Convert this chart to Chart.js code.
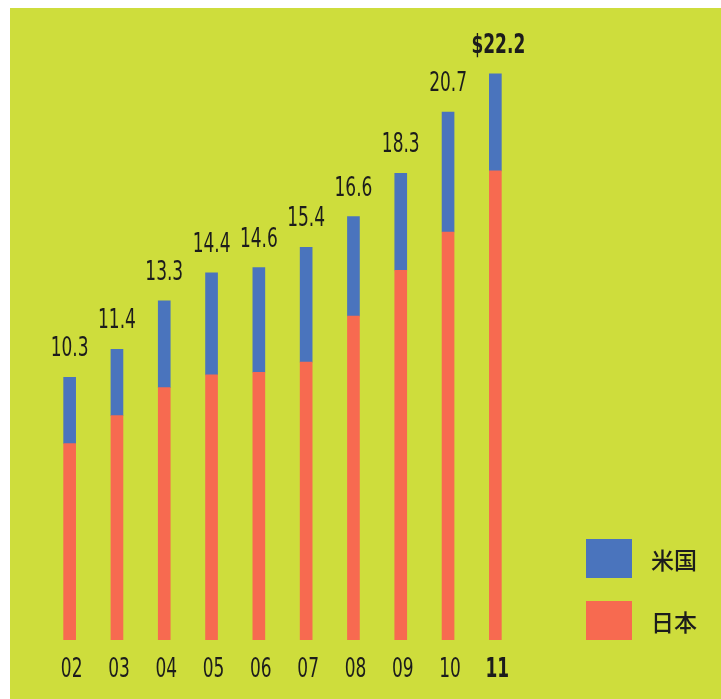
<!DOCTYPE html>
<html>
<head>
<meta charset="utf-8">
<script src="https://cdn.jsdelivr.net/npm/chart.js@4.4.1/dist/chart.umd.min.js"></script>
<style>
  html, body { margin: 0; padding: 0; background: #ffffff; }
  #wrap { position: relative; width: 721px; height: 699px; }
</style>
</head>
<body>
<div id="wrap"><canvas id="barChart" width="721" height="699"></canvas></div>
<script>
// chart data
const years = ['02', '03', '04', '05', '06', '07', '08', '09', '10', '11'];
const japan = [7.7, 8.8, 9.9, 10.4, 10.5, 10.9, 12.7, 14.5, 16.0, 18.4];
const usa = [2.6, 2.6, 3.4, 4.0, 4.1, 4.5, 3.9, 3.8, 4.7, 3.8];
const totalLabels = ['10.3', '11.4', '13.3', '14.4', '14.6', '15.4', '16.6', '18.3', '20.7', '$22.2'];

const narrow = '"DejaVu Sans Condensed", "DejaVu Sans", sans-serif';
const textColor = '#1c1c1c';

// draw text squeezed horizontally (the original uses a condensed face)
function squeezed(ctx, text, x, y, bold, baseline) {
  ctx.save();
  ctx.font = (bold ? 'bold ' : '') + '27px ' + narrow;
  ctx.textAlign = 'center';
  ctx.textBaseline = baseline;
  ctx.translate(x, y);
  ctx.scale(0.7, 1);
  ctx.fillText(text, 0, 0);
  ctx.restore();
}

// yellow-green paper behind everything
const paperBg = {
  id: 'paperBg',
  beforeDraw(chart) {
    const ctx = chart.ctx;
    ctx.save();
    ctx.fillStyle = '#cedd3c';
    ctx.fillRect(10, 8, chart.width - 10, chart.height - 8);
    ctx.restore();
  }
};

// totals above each stack + year labels under the x scale
const barTexts = {
  id: 'barTexts',
  afterDatasetsDraw(chart) {
    const ctx = chart.ctx;
    const meta = chart.getDatasetMeta(1);
    const xScale = chart.scales.x;
    ctx.save();
    ctx.fillStyle = textColor;
    meta.data.forEach((bar, i) => {
      const last = i === totalLabels.length - 1;
      squeezed(ctx, totalLabels[i], bar.x + (last ? 3 : 0), bar.y - 21, last, 'alphabetic');
    });
    years.forEach((yr, i) => {
      const x = xScale.getPixelForValue(i);
      squeezed(ctx, yr, x + 2, chart.chartArea.bottom + 37, i === years.length - 1, 'alphabetic');
    });
    ctx.restore();
  }
};

// legend boxes bottom right (米国 above 日本)
const sideLegend = {
  id: 'sideLegend',
  afterDraw(chart) {
    const ctx = chart.ctx;
    const items = [chart.data.datasets[1], chart.data.datasets[0]];
    ctx.save();
    items.forEach((ds, i) => {
      const top = 539 + i * 62;
      ctx.fillStyle = ds.backgroundColor;
      ctx.fillRect(586, top, 46, 39);
      ctx.fillStyle = textColor;
      ctx.font = '500 23px "Noto Sans CJK JP", sans-serif';
      ctx.textAlign = 'left';
      ctx.textBaseline = 'middle';
      ctx.fillText(ds.label, 651, top + 21);
    });
    ctx.restore();
  }
};

const barData = {
  labels: years,
  datasets: [
    { label: '日本', data: japan, backgroundColor: '#f76a50', barThickness: 12 },
    { label: '米国', data: usa, backgroundColor: '#4a74bd', barThickness: 12 },
  ],
};

const barConfig = {
  type: 'bar',
  data: barData,
  options: {
    responsive: false,
    animation: false,
    layout: { padding: { left: 46, right: 202, top: 28, bottom: 59 } },
    plugins: { legend: { display: false }, tooltip: { enabled: false } },
    scales: {
      x: {
        stacked: true,
        grid: { display: false, drawTicks: false },
        border: { display: false },
        ticks: { display: false },
      },
      y: { stacked: true, display: false, min: 0, max: 24 },
    },
  },
  plugins: [paperBg, barTexts, sideLegend],
};

new Chart(document.getElementById('barChart'), barConfig);
</script>
</body>
</html>
